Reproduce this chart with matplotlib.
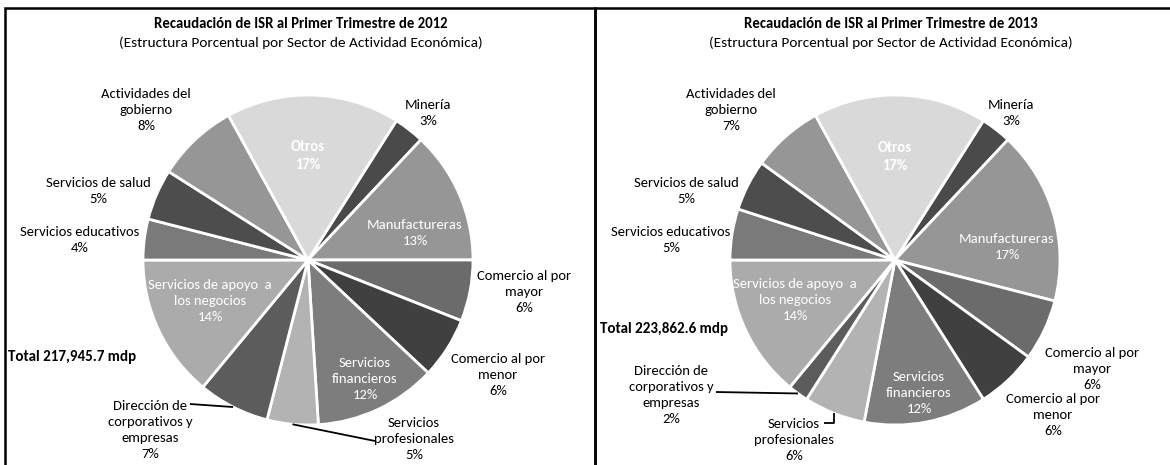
import numpy as np
import matplotlib.pyplot as plt
from matplotlib.patches import Rectangle

plt.rcParams['font.family'] = ['Carlito', 'Lato', 'DejaVu Sans']

# ------------------------------------------------------------
# Datos (estructura porcentual por sector, ISR 1er trimestre)
# ------------------------------------------------------------
sectores = ["Minería", "Manufactureras", "Comercio al por\nmayor",
            "Comercio al por\nmenor", "Servicios\nfinancieros",
            "Servicios\nprofesionales", "Dirección de\ncorporativos y\nempresas",
            "Servicios de apoyo  a\nlos negocios", "Servicios educativos",
            "Servicios de salud", "Actividades del\ngobierno", "Otros"]
pct_2012 = [3, 13, 6, 6, 12, 5, 7, 14, 4, 5, 8, 17]
pct_2013 = [3, 17, 6, 6, 12, 6, 2, 14, 5, 5, 7, 17]
anios = ["2012", "2013"]
totales = ["Total 217,945.7 mdp", "Total 223,862.6 mdp"]

grises = ["#4a4a4a", "#969696", "#6b6b6b", "#404040", "#7d7d7d", "#b3b3b3",
          "#5c5c5c", "#ababab", "#7a7a7a", "#4d4d4d", "#969696", "#d9d9d9"]
blancos = {1, 4, 7, 11}   # etiquetas dentro del pastel

W, H = 1170, 465          # todo en pixeles, y hacia abajo

# posiciones de etiquetas (centro del bloque de texto)
pos_2012 = [(428, 113), (415, 233), (524, 292), (498, 375), (365, 379),
            (414, 439), (150, 430), (210, 301), (80, 240), (98, 191),
            (146, 110), (308, 156)]
pos_2013 = [(1011, 113), (1007, 247), (1092, 369), (1053, 415), (919, 393),
            (794, 440), (671, 395), (795, 300), (671, 240), (686, 191),
            (731, 110), (895, 157)]

paneles = [
    dict(vals=pct_2012, pos=pos_2012, centro=(308, 260), x0=5, tx=301,
         total_xy=(8, 357),
         guias={6: [(190, 404)], 5: [(375, 441)]}),
    dict(vals=pct_2013, pos=pos_2013, centro=(895, 260), x0=595, tx=891,
         total_xy=(600, 329),
         guias={6: [(716, 392)], 5: [None, (824, 423)]}),
]

fig = plt.figure(figsize=(W / 100, H / 100), dpi=100)
ax = fig.add_axes([0, 0, 1, 1])

for k, p in enumerate(paneles):
    cx, cy = p["centro"]
    wedges, _ = ax.pie(p["vals"], colors=grises, startangle=57.6,
                       counterclock=False, center=(cx, H - cy), radius=165,
                       wedgeprops=dict(edgecolor="white", linewidth=2))

    for i, v in enumerate(p["vals"]):
        x, y = p["pos"][i]
        ax.text(x, H - y, f"{sectores[i]}\n{v}%", ha="center", va="center",
                fontsize=10.5, linespacing=1.38,
                color="white" if i in blancos else "black",
                fontweight="bold" if i == 11 else "normal")

    # lineas guia
    for i, pts in p["guias"].items():
        w = wedges[i]
        a = np.deg2rad((w.theta1 + w.theta2) / 2)
        ex, ey = w.center[0] + w.r * np.cos(a), w.center[1] + w.r * np.sin(a)
        xs, ys = [ex], [ey]
        for q in pts:
            if q is None:
                # gancho vertical
                xs.append(ex); ys.append(H - pts[-1][1])
            else:
                xs.append(q[0]); ys.append(H - q[1])
        ax.plot(xs, ys, color="black", lw=1.3, solid_capstyle="butt")

    ax.text(p["tx"], H - 24, f"Recaudación de ISR al Primer Trimestre de {anios[k]}",
            ha="center", va="center", fontsize=10.6, fontweight="bold")
    ax.text(p["tx"], H - 43, "(Estructura Porcentual por Sector de Actividad Económica)",
            ha="center", va="center", fontsize=11)
    ax.text(p["total_xy"][0], H - p["total_xy"][1], totales[k], ha="left",
            va="center", fontsize=10.8, fontweight="bold")

    ax.add_patch(Rectangle((p["x0"], -20), 590, H - 8.5 + 20, fill=False,
                           edgecolor="black", lw=1.8))

ax.set_xlim(0, W)
ax.set_ylim(0, H)
ax.set_aspect("auto")
ax.axis("off")

fig.savefig("out.png", dpi=100, facecolor="white")
